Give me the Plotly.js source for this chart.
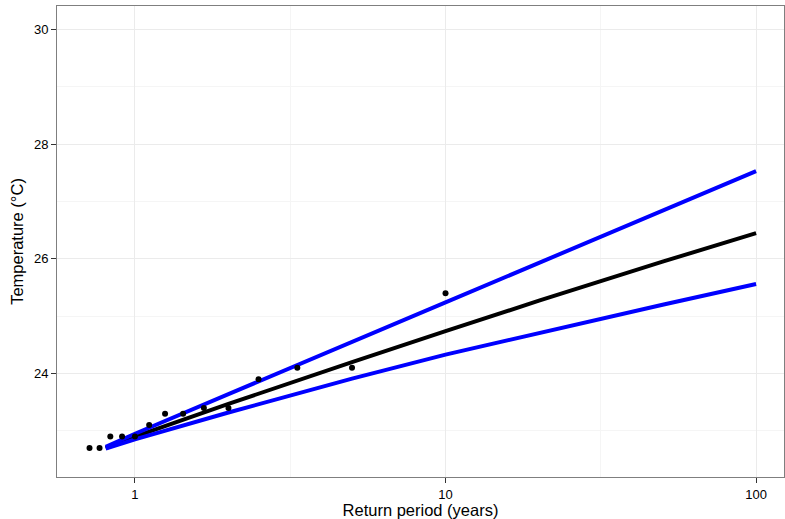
<!DOCTYPE html>
<html>
<head>
<meta charset="utf-8">
<script src="https://cdn.plot.ly/plotly-3.0.1.min.js"></script>
<style>html,body{margin:0;padding:0;background:#fff;}#chart{width:785px;height:519px;}</style>
</head>
<body>
<div id="chart"></div>
<script>
// Observed points
const returnPeriod = [10, 5, 3.333, 2.5, 2, 1.667, 1.429, 1.25, 1.111, 1, 0.909, 0.833, 0.769, 0.714];
const temperature  = [25.4, 24.1, 24.1, 23.9, 23.4, 23.4, 23.3, 23.3, 23.1, 22.9, 22.9, 22.9, 22.7, 22.7];

// Fitted return level curve and confidence bounds
const fitPeriod = [0.805, 1, 2, 3.162, 5, 10, 20, 50, 100];
const fitLevel  = [22.70, 22.90, 23.47, 23.84, 24.20, 24.74, 25.27, 25.95, 26.45];
const upperCI   = [22.72, 22.95, 23.64, 24.10, 24.55, 25.24, 25.93, 26.84, 27.53];
const lowerCI   = [22.69, 22.85, 23.32, 23.62, 23.91, 24.33, 24.71, 25.20, 25.56];

// Axis ticks
const xTicks = [1, 10, 100];
const xTickText = ['1', '10', '100'];
const xMinor = [3.162, 31.62];
const yTicks = [24, 26, 28, 30];
const yMinor = [23, 25, 27, 29];

const font = "'Liberation Sans', Arial, Helvetica, sans-serif";

const traces = [
  {x: fitPeriod, y: fitLevel, mode: 'lines', line: {color: '#000000', width: 4}, hoverinfo: 'skip'},
  {x: fitPeriod, y: upperCI, mode: 'lines', line: {color: '#0000FF', width: 4}, hoverinfo: 'skip'},
  {x: fitPeriod, y: lowerCI, mode: 'lines', line: {color: '#0000FF', width: 4}, hoverinfo: 'skip'},
  {x: returnPeriod, y: temperature, mode: 'markers', marker: {color: '#000000', size: 6}}
];

const layout = {
  width: 785, height: 519,
  margin: {l: 57, r: 1, t: 6, b: 42},
  paper_bgcolor: '#ffffff', plot_bgcolor: '#ffffff',
  showlegend: false,
  font: {family: font, color: '#000000'},
  xaxis: {
    type: 'log',
    range: [Math.log10(0.561), Math.log10(123)],
    tickmode: 'array', tickvals: xTicks, ticktext: xTickText,
    ticks: 'outside', ticklen: 5, tickcolor: '#333333', tickwidth: 1,
    tickfont: {size: 13, color: '#000000', family: font},
    showgrid: true, gridcolor: '#EBEBEB', gridwidth: 1,
    minor: {tickmode: 'array', tickvals: xMinor, showgrid: true, gridcolor: '#F5F5F5', gridwidth: 1, ticks: ''},
    showline: true, mirror: true, linecolor: '#7F7F7F', linewidth: 1,
    zeroline: false,
    title: {text: 'Return period (years)', font: {size: 16.5, color: '#000000', family: font}, standoff: 2}
  },
  yaxis: {
    range: [22.195, 30.41],
    tickmode: 'array', tickvals: yTicks,
    ticks: 'outside', ticklen: 5, tickcolor: '#333333', tickwidth: 1,
    tickfont: {size: 13, color: '#000000', family: font},
    showgrid: true, gridcolor: '#EBEBEB', gridwidth: 1,
    minor: {tickmode: 'array', tickvals: yMinor, showgrid: true, gridcolor: '#F5F5F5', gridwidth: 1, ticks: ''},
    showline: true, mirror: true, linecolor: '#7F7F7F', linewidth: 1,
    zeroline: false,
    title: {text: 'Temperature (°C)', font: {size: 16.5, color: '#000000', family: font}, standoff: 6}
  }
};

Plotly.newPlot('chart', traces, layout, {displayModeBar: false, staticPlot: true});
</script>
</body>
</html>
